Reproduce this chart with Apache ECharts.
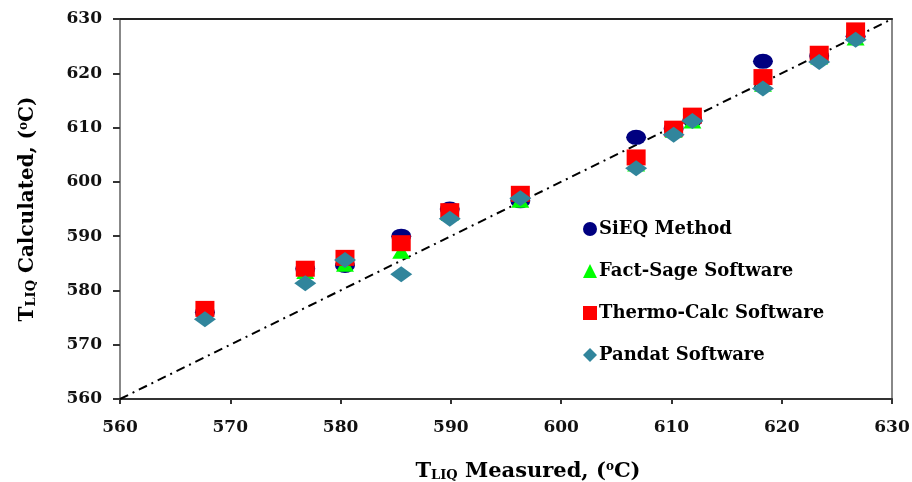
<!DOCTYPE html>
<html>
<head>
<meta charset="utf-8">
<script src="https://cdn.jsdelivr.net/npm/echarts@6/dist/echarts.min.js"></script>
<style>
html,body{margin:0;padding:0;background:#fff;}
#chart{width:912px;height:482px;}
</style>
</head>
<body>
<div id="chart"></div>
<script>
// Measured liquidus temperatures (x)
const measured = [567.7, 576.8, 580.4, 585.5, 589.9, 596.3, 606.8, 610.2, 611.9, 618.3, 623.4, 626.7];
// Calculated liquidus temperatures (y)
const sieq      = [576.0, 584.0, 584.6, 590.0, 595.0, 596.5, 608.2, 609.8, 611.4, 622.2, 623.2, 626.8];
const factSage  = [576.0, 583.5, 584.8, 587.2, 594.2, 596.6, 603.3, 609.5, 611.2, 618.0, 623.0, 626.5];
const thermoCalc= [576.6, 584.0, 586.0, 588.7, 594.6, 597.8, 604.5, 609.8, 612.2, 619.3, 623.6, 627.9];
const pandat    = [574.7, 581.3, 585.6, 583.0, 593.2, 597.0, 602.5, 608.7, 611.2, 617.2, 622.1, 626.2];
const seriesNames = ['SiEQ Method', 'Fact-Sage Software', 'Thermo-Calc Software', 'Pandat Software'];
const axisTicks = [560, 570, 580, 590, 600, 610, 620, 630];
const parityLine = [[560, 560], [630, 630]];

const pairs = ys => measured.map((x, i) => [x, ys[i]]);
const font = 'DejaVu Serif';

const chart = echarts.init(document.getElementById('chart'));
chart.setOption({
  animation: false,
  backgroundColor: '#fff',
  grid: { left: 120, right: 20, top: 19, bottom: 83, containLabel: false, outerBoundsMode: 'none' },
  legend: {
    orient: 'vertical',
    left: 578,
    top: 215,
    itemGap: 24,
    itemWidth: 14,
    itemHeight: 14,
    textStyle: { fontFamily: font, fontWeight: 'bold', fontSize: 18, color: '#000', padding: [0, 0, 0, -3] },
    data: [
      { name: seriesNames[0], icon: 'circle' },
      { name: seriesNames[1], icon: 'triangle' },
      { name: seriesNames[2], icon: 'rect' },
      { name: seriesNames[3], icon: 'diamond' }
    ]
  },
  xAxis: [{
    type: 'value', min: axisTicks[0], max: axisTicks[axisTicks.length - 1], interval: 10,
    axisLine: { lineStyle: { color: '#333', width: 2 } },
    axisTick: { inside: false, length: 5, lineStyle: { color: '#333', width: 2 } },
    splitLine: { show: false },
    axisLabel: { fontFamily: font, fontWeight: 'bold', fontSize: 17, color: '#111', margin: 20 },
    name: '{t|T}{s|LIQ}{t| Measured, (}{o|o}{t|C)}',
    nameLocation: 'middle', nameGap: 62,
    nameTextStyle: {
      padding: [0, 0, 0, 44],
      rich: {
        t: { fontFamily: font, fontWeight: 'bold', fontSize: 21, color: '#000' },
        s: { fontFamily: font, fontWeight: 'bold', fontSize: 13, color: '#000', verticalAlign: 'bottom', padding: [6, 0, 0, 0] },
        o: { fontFamily: font, fontWeight: 'bold', fontSize: 12, color: '#000', verticalAlign: 'top', padding: [0, 0, 6, 0] }
      }
    }
  }, {
    type: 'value', position: 'top', min: 560, max: 630,
    axisLine: { show: true, lineStyle: { color: '#222', width: 2 } },
    axisTick: { show: false }, axisLabel: { show: false }, splitLine: { show: false }
  }],
  yAxis: [{
    type: 'value', min: axisTicks[0], max: axisTicks[axisTicks.length - 1], interval: 10,
    axisLine: { show: true, lineStyle: { color: '#888', width: 2 } },
    axisTick: { show: true, inside: false, length: 7, lineStyle: { color: '#333', width: 2 } },
    splitLine: { show: false },
    axisLabel: { fontFamily: font, fontWeight: 'bold', fontSize: 17, color: '#111', margin: 18 },
    name: '{t|T}{s|LIQ}{t| Calculated, (}{o|o}{t|C)}',
    nameLocation: 'middle', nameGap: 82, nameRotate: 90,
    nameTextStyle: {
      rich: {
        t: { fontFamily: font, fontWeight: 'bold', fontSize: 20, color: '#000' },
        s: { fontFamily: font, fontWeight: 'bold', fontSize: 13, color: '#000', verticalAlign: 'bottom', padding: [6, 0, 0, 0] },
        o: { fontFamily: font, fontWeight: 'bold', fontSize: 12, color: '#000', verticalAlign: 'top', padding: [0, 0, 6, 0] }
      }
    }
  }, {
    type: 'value', position: 'right', min: 560, max: 630,
    axisLine: { show: true, lineStyle: { color: '#888', width: 2 } },
    axisTick: { show: false }, axisLabel: { show: false }, splitLine: { show: false }
  }],
  series: [
    {
      type: 'line', data: parityLine, symbol: 'none', silent: true,
      lineStyle: { color: '#000', width: 2, type: [9, 5, 2, 5] }, z: 1
    },
    {
      name: seriesNames[0], type: 'scatter', data: pairs(sieq),
      symbol: 'circle', symbolSize: [20, 15], itemStyle: { color: '#000080', opacity: 1 }, z: 2
    },
    {
      name: seriesNames[1], type: 'scatter', data: pairs(factSage),
      symbol: 'triangle', symbolSize: [18, 15], itemStyle: { color: '#00ff00', opacity: 1 }, z: 3
    },
    {
      name: seriesNames[2], type: 'scatter', data: pairs(thermoCalc),
      symbol: 'rect', symbolSize: [19, 16], itemStyle: { color: '#ff0000', opacity: 1 }, z: 4
    },
    {
      name: seriesNames[3], type: 'scatter', data: pairs(pandat),
      symbol: 'diamond', symbolSize: [22, 16], itemStyle: { color: '#31859C', opacity: 1 }, z: 5
    }
  ]
});
</script>
</body>
</html>
